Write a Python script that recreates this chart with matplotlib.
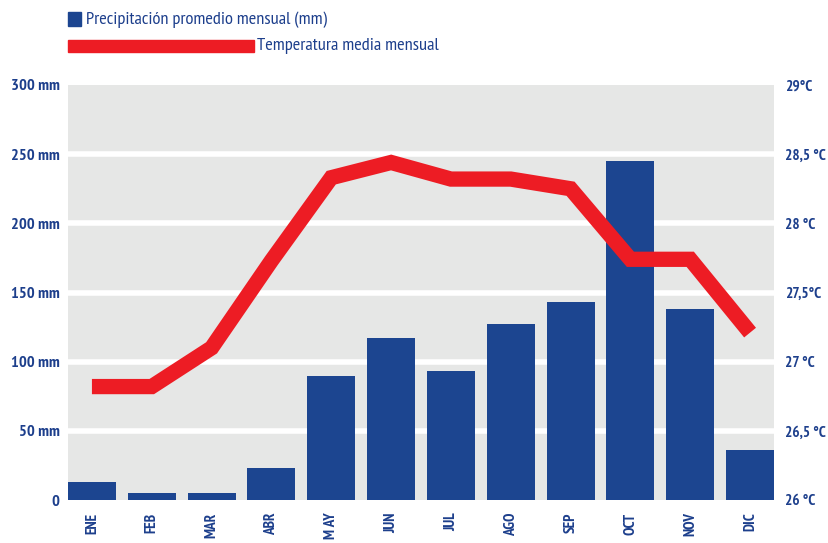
import matplotlib
matplotlib.use("Agg")
import matplotlib.pyplot as plt
from matplotlib import font_manager
from matplotlib.patches import Rectangle

months = ["ENE", "FEB", "MAR", "ABR", "M AY", "JUN", "JUL", "AGO", "SEP", "OCT", "NOV", "DIC"]
precip_mm = [13, 5, 5, 23, 90, 117, 93, 127, 143, 245, 138, 36]
temp_c = [26.82, 26.82, 27.10, 27.73, 28.33, 28.44, 28.32, 28.32, 28.25, 27.74, 27.74, 27.21]
precip_ticks = [0, 50, 100, 150, 200, 250, 300]
precip_labels = ["0", "50 mm", "100 mm", "150 mm", "200 mm", "250 mm", "300 mm"]
temp_ticks = [26, 26.5, 27, 27.5, 28, 28.5, 29]
temp_labels = ["26 °C", "26,5 °C", "27 °C", "27,5°C", "28 °C", "28,5 °C", "29°C"]

names = {f.name for f in font_manager.fontManager.ttflist}
prefs = ["Myriad Pro Cond", "PT Sans Narrow", "Fira Sans Condensed", "Roboto Condensed",
         "Open Sans Condensed", "Encode Sans Condensed", "Asap Condensed", "Liberation Sans Narrow"]
fam = next((p for p in prefs if p in names), "DejaVu Sans")
plt.rcParams["font.family"] = [fam, "DejaVu Sans"]

BLUE = "#1c4590"
RED = "#ed1c24"
GRAY = "#e6e7e6"
TXT = "#1d3f8c"

fig = plt.figure(figsize=(8.29, 5.43), dpi=100)
ax = fig.add_axes([68/829, 1-500/543, (774-68)/829, (500-85)/543])
ax.set_facecolor(GRAY)
x = list(range(len(months)))
for t in precip_ticks[1:-1]:
    ax.axhline(t, color="white", lw=4, zorder=1)
ax.bar(x, precip_mm, width=0.8, color=BLUE, zorder=2)
ax.set_xlim(-0.4, 11.4)
ax.set_ylim(0, 300)
ax.set_yticks(precip_ticks)
ax.set_yticklabels(precip_labels, fontsize=11.8, fontweight="bold", color=TXT)
ax.set_xticks(x)
ax.set_xticklabels(months, rotation=90, fontsize=11, fontweight="bold", color=TXT)
ax.tick_params(axis="y", length=0, pad=6)
ax.tick_params(axis="x", length=0, pad=9)
for s in ax.spines.values():
    s.set_visible(False)

ax2 = ax.twinx()
ax2.plot(x, temp_c, color=RED, lw=11, solid_joinstyle="miter", solid_capstyle="butt", zorder=5)
ax2.set_ylim(26, 29)
ax2.set_yticks(temp_ticks)
ax2.set_yticklabels(temp_labels, fontsize=11, fontweight="bold", color=TXT)
ax2.tick_params(length=0, pad=8)
for s in ax2.spines.values():
    s.set_visible(False)

# legend
fig.add_artist(Rectangle((68/829, 1-26/543), 13/829, 14/543, transform=fig.transFigure, color=BLUE))
fig.text(86/829, 1-20/543, "Precipitación promedio mensual (mm)", fontsize=13.2, color=TXT, va="center", ha="left")
fig.add_artist(Rectangle((68/829, 1-52/543), 186/829, 12/543, transform=fig.transFigure, color=RED))
fig.text(257/829, 1-46/543, "Temperatura media mensual", fontsize=13.2, color=TXT, va="center", ha="left")

fig.savefig("out.png", dpi=100)
